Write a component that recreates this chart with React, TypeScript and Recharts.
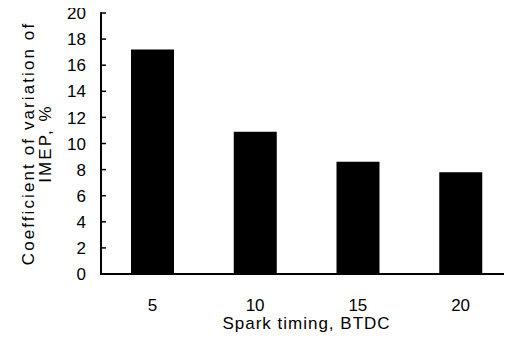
import React from 'react';
import { BarChart, Bar, XAxis, YAxis } from 'recharts';

// Coefficient of variation of IMEP (%) at each spark timing (deg BTDC)
const sparkTiming = [5, 10, 15, 20];
const covImep = [17.2, 10.9, 8.6, 7.8];
const yTicks = [0, 2, 4, 6, 8, 10, 12, 14, 16, 18, 20];
// boundaries between the four timing categories (in category units)
const categoryDividers = [1, 2, 3];

const data = sparkTiming.map((t, i) => ({ timing: String(t), cov: covImep[i] }));

const FONT = '"Liberation Sans", Arial, Helvetica, sans-serif';
// default tick size (6) plus default tick margin (2): distance from axis line to tick anchor
const TICK_GAP = 8;

// y tick: short mark pointing into the plot, value to the left of the axis
const YTick = (p: any) => {
  const ax = p.x + TICK_GAP;
  return (
    <g>
      <rect x={ax} y={p.y - 0.75} width={5} height={1.5} fill="#000" />
      <text x={ax - 15} y={p.y} dy="0.36em" textAnchor="end" fontFamily={FONT} fontSize={17} fill="#000">
        {p.payload.value}
      </text>
    </g>
  );
};

// x tick: category value below the axis
const XTick = (p: any) => (
  <text x={p.x} y={p.y + 29} textAnchor="middle" fontFamily={FONT} fontSize={17} fill="#000">
    {p.payload.value}
  </text>
);

// divider mark between categories, pointing up into the plot
const DividerTick = (p: any) => {
  const ay = p.y - TICK_GAP;
  return <rect x={p.x - 0.75} y={ay - 7} width={1.5} height={7} fill="#000" />;
};

// y axis line plus the two-line rotated title
const YTitle = (props: any) => {
  const vb = props.viewBox || { x: 0, y: 0, width: 0, height: 0 };
  const cy = vb.y + vb.height / 2;
  return (
    <g>
      <rect x={vb.x + vb.width - 1} y={vb.y - 0.75} width={2} height={vb.height + 1.75} fill="#000" />
      <g transform={`translate(34, ${cy}) rotate(-90)`}>
        <text x={0} y={0} textAnchor="middle" fontFamily={FONT} fontSize={17} letterSpacing={2.1} fill="#000">
          Coefficient of variation of
        </text>
        <text x={0} y={16.5} textAnchor="middle" fontFamily={FONT} fontSize={17} letterSpacing={2.1} fill="#000">
          IMEP, %
        </text>
      </g>
    </g>
  );
};

// x axis line plus the axis title
const XTitle = (props: any) => {
  const vb = props.viewBox || { x: 0, y: 0, width: 0, height: 0 };
  return (
    <g>
      <rect x={vb.x - 1} y={vb.y - 1} width={vb.width + 1} height={2} fill="#000" />
      <text
        x={vb.x + vb.width / 2}
        y={vb.y + vb.height - 14}
        textAnchor="middle"
        fontFamily={FONT}
        fontSize={17}
        letterSpacing={1.0}
        fill="#000"
      >
        Spark timing, BTDC
      </text>
    </g>
  );
};

// top edge of the plot frame
const TopEdge = (props: any) => {
  const vb = props.viewBox || { x: 0, y: 0, width: 0, height: 0 };
  return <rect x={vb.x - 1} y={vb.y + vb.height - 0.75} width={vb.width + 1} height={1.5} fill="#000" />;
};

export default function App() {
  return (
    <div style={{ marginLeft: -8, marginTop: -8 }}>
      <BarChart width={512} height={343} data={data} margin={{ top: 13, right: 0, bottom: 0, left: 0 }} barSize={43}>
        <XAxis
          xAxisId="div"
          type="number"
          domain={[0, 4]}
          ticks={categoryDividers}
          height={0}
          tickSize={6}
          axisLine={false}
          tickLine={false}
          tick={<DividerTick />}
        />
        <XAxis
          xAxisId="cat"
          dataKey="timing"
          type="category"
          height={69}
          tickSize={6}
          tickLine={false}
          axisLine={false}
          tick={<XTick />}
          label={<XTitle />}
        />
        <XAxis
          xAxisId="top"
          dataKey="timing"
          orientation="top"
          height={0}
          tick={false}
          tickLine={false}
          axisLine={false}
          label={<TopEdge />}
        />
        <YAxis
          yAxisId="val"
          width={101}
          domain={[0, 20]}
          ticks={yTicks}
          interval={0}
          tickSize={6}
          tickLine={false}
          axisLine={false}
          tick={<YTick />}
          label={<YTitle />}
        />
        <Bar dataKey="cov" xAxisId="cat" yAxisId="val" fill="#000" isAnimationActive={false} />
      </BarChart>
    </div>
  );
}
